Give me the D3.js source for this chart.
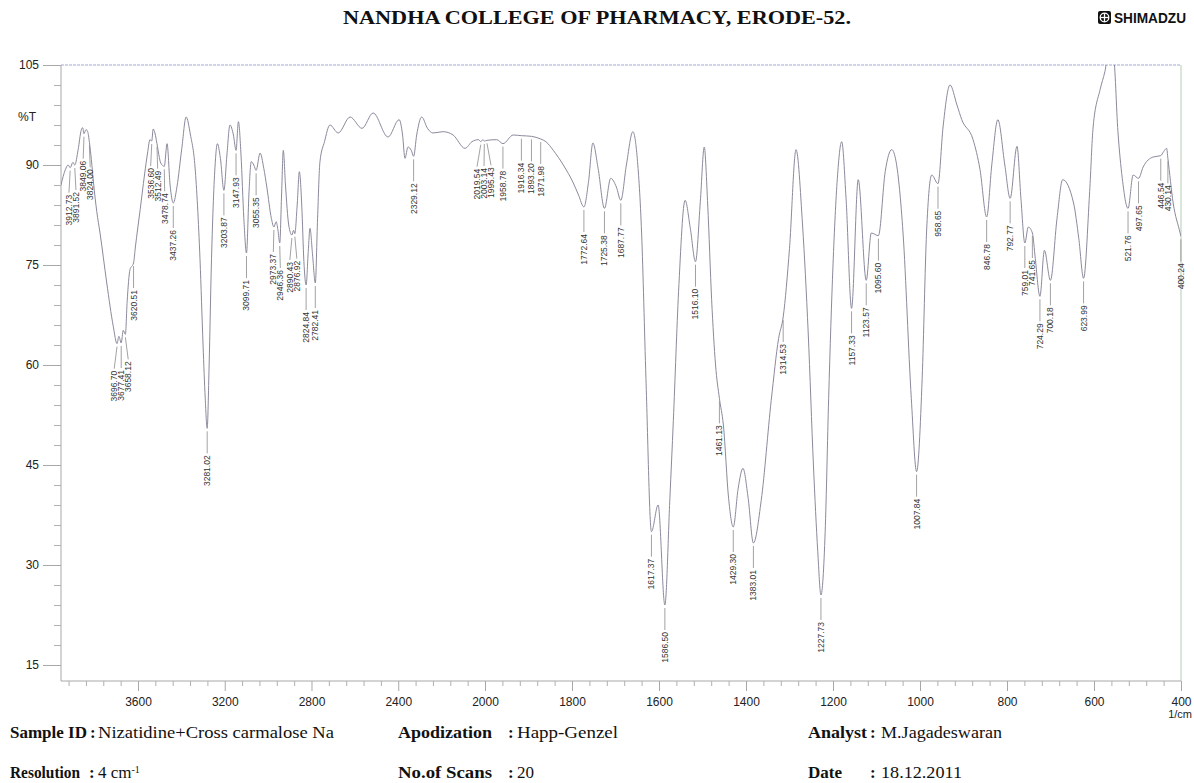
<!DOCTYPE html>
<html>
<head>
<meta charset="utf-8">
<script src="https://cdnjs.cloudflare.com/ajax/libs/d3/7.8.5/d3.min.js"></script>
<style>
  body { margin: 0; background: #fff; }
  svg { display: block; }
</style>
</head>
<body>
<svg id="chart"></svg>
<script>
// spectrum, high wavenumber to low
const wavenumber = [
  3955, 3935, 3922, 3912.73, 3900, 3891.52, 3876, 3862, 3855, 3849.06,
  3840, 3832, 3824.00, 3815, 3805, 3790, 3775, 3744, 3714, 3696.70,
  3688, 3677.41, 3668, 3658.12, 3650, 3637, 3620.51, 3612, 3590, 3570,
  3555, 3545, 3536.60, 3530, 3522, 3512.49, 3495, 3478.74, 3466, 3452,
  3437.26, 3420, 3398, 3378, 3358, 3337, 3314, 3300, 3290, 3281.02,
  3272, 3262, 3245, 3234, 3220, 3203.87, 3190, 3176, 3160, 3147.93,
  3137, 3125, 3112, 3099.71, 3088, 3078, 3066, 3055.35, 3037, 3020,
  3006, 2985, 2973.37, 2963, 2955, 2946.36, 2938, 2930, 2920, 2905,
  2890.43, 2883, 2876.92, 2866, 2856, 2845, 2835, 2824.84, 2815, 2807,
  2795, 2782.41, 2772, 2761, 2740, 2715, 2677, 2622, 2567, 2516,
  2447, 2396, 2380, 2369, 2355, 2340, 2329.12, 2315, 2292, 2265,
  2240, 2193, 2147, 2092, 2060, 2030, 2019.54, 2010, 2003.14, 1995.43,
  1973, 1958.78, 1935, 1916.34, 1893.20, 1871.98, 1860, 1843, 1820, 1797,
  1785, 1772.64, 1762, 1752, 1740, 1725.38, 1711, 1698, 1687.77, 1675,
  1660, 1650, 1640, 1630, 1617.37, 1602, 1586.50, 1575, 1567, 1555,
  1540, 1528, 1516.10, 1505, 1496, 1488, 1479, 1470, 1461.13, 1452,
  1440, 1429.30, 1418, 1407, 1395, 1383.01, 1365, 1342, 1325, 1314.53,
  1300, 1285, 1270, 1257, 1245, 1235, 1227.73, 1218, 1210, 1200,
  1190, 1180, 1170, 1157.33, 1142, 1123.57, 1112, 1095.60, 1080, 1065,
  1055, 1039, 1020, 1007.84, 995, 985, 973, 958.65, 947, 931,
  915, 904, 878, 862, 846.78, 835, 821, 805, 792.77, 777,
  768, 759.01, 751, 741.65, 735, 724.29, 714, 700.18, 685, 672,
  647, 635, 623.99, 610, 602, 586, 575, 567, 555, 545,
  535, 521.76, 510, 497.65, 487, 464, 446.54, 440, 433, 430.14,
  418, 402, 400.24
];
const percentT = [
  87.0, 89.3, 90.0, 89.6, 90.4, 90.0, 92.3, 95.2, 95.6, 94.7,
  95.3, 95.0, 93.4, 90.8, 87.3, 83.0, 79.8, 72.3, 65.8, 63.2,
  64.3, 63.3, 65.2, 64.6, 69.5, 74.3, 75.3, 77.7, 83.3, 88.5,
  92.0, 93.8, 93.6, 95.4, 94.8, 93.2, 90.3, 89.8, 93.2, 87.0,
  84.3, 86.8, 92.5, 97.2, 94.5, 89.7, 75.8, 63.0, 55.0, 50.5,
  60.0, 74.7, 89.7, 93.2, 91.0, 86.2, 91.5, 96.0, 94.5, 92.2,
  96.5, 91.5, 82.0, 76.8, 86.0, 90.5, 90.0, 89.2, 91.8, 89.5,
  86.7, 82.0, 80.7, 81.5, 80.3, 78.3, 85.5, 92.2, 87.0, 81.0,
  79.5, 80.2, 79.7, 84.0, 89.0, 84.0, 75.5, 72.0, 77.0, 80.5,
  76.5, 72.3, 82.0, 90.5, 93.5, 96.0, 94.8, 97.2, 95.5, 97.8,
  94.2, 96.8, 94.5, 91.0, 92.7, 92.2, 91.3, 94.5, 97.2, 95.5,
  94.8, 95.0, 94.5, 92.5, 93.5, 93.8, 93.5, 93.8, 93.6, 93.7,
  93.8, 93.2, 94.5, 94.4, 94.3, 93.9, 93.5, 92.2, 90.0, 87.3,
  85.5, 83.7, 87.5, 93.3, 89.5, 83.5, 88.0, 86.7, 84.7, 90.0,
  95.0, 91.0, 79.8, 58.0, 35.0, 39.0, 24.0, 40.0, 51.7, 71.0,
  84.7, 80.5, 75.5, 84.5, 92.7, 84.0, 69.8, 60.0, 55.0, 51.0,
  40.0, 35.7, 41.5, 44.5, 40.0, 33.3, 39.7, 54.7, 64.0, 67.2,
  77.5, 92.3, 81.0, 64.8, 45.0, 32.0, 25.5, 35.0, 55.0, 75.0,
  88.0, 93.5, 85.0, 68.5, 87.8, 72.7, 79.8, 79.4, 89.0, 92.3,
  90.5, 79.8, 55.0, 44.0, 58.0, 79.8, 88.5, 87.2, 95.7, 102.0,
  99.0, 96.8, 93.8, 89.3, 82.2, 90.0, 96.8, 90.0, 85.0, 92.8,
  85.0, 78.3, 80.7, 79.8, 76.0, 70.3, 77.2, 72.7, 82.0, 87.8,
  84.3, 79.0, 73.0, 86.0, 95.7, 101.3, 104.0, 106.5, 106.0, 95.0,
  88.0, 83.5, 88.5, 88.0, 89.7, 91.2, 91.4, 92.0, 92.5, 91.0,
  84.3, 79.8, 79.3
];

// peak picks printed on the chart
const peakLabels = [
  "3912.73", "3891.52", "3849.06", "3824.00", "3696.70", "3677.41", "3658.12",
  "3620.51", "3536.60", "3512.49", "3478.74", "3437.26", "3281.02", "3203.87",
  "3147.93", "3099.71", "3055.35", "2973.37", "2946.36", "2890.43", "2876.92",
  "2824.84", "2782.41", "2329.12", "2019.54", "2003.14", "1995.43", "1958.78",
  "1916.34", "1893.20", "1871.98", "1772.64", "1725.38", "1687.77", "1617.37",
  "1586.50", "1516.10", "1461.13", "1429.30", "1383.01", "1314.53", "1227.73",
  "1157.33", "1123.57", "1095.60", "1007.84", "958.65", "846.78", "792.77",
  "759.01", "741.65", "724.29", "700.18", "623.99", "521.76", "497.65",
  "446.54", "430.14", "400.24"
];

const xTickValues = [3600, 3200, 2800, 2400, 2000, 1800, 1600, 1400, 1200, 1000, 800, 600, 400];
const yTickValues = [15, 30, 45, 60, 75, 90, 105];

const width = 1194, height = 783;
const plotLeft = 61, plotRight = 1181, plotTop = 65, plotBottom = 681;

const svg = d3.select("#chart")
    .attr("width", width)
    .attr("height", height)
    .style("font-family", "'Liberation Sans', Arial, sans-serif");

svg.append("rect").attr("width", width).attr("height", height).attr("fill", "#fff");

// Shimadzu prints 4000-2000 at half the scale of 2000-400
const xScale = d3.scaleLinear()
    .domain([3955, 2000, 400])
    .range([plotLeft, 485, plotRight]);
const yScale = d3.scaleLinear()
    .domain([12.6, 105])
    .range([plotBottom, plotTop]);

// header
svg.append("text")
    .attr("x", 597).attr("y", 24)
    .attr("text-anchor", "middle")
    .attr("textLength", 508)
    .attr("lengthAdjust", "spacingAndGlyphs")
    .style("font-family", "'Liberation Serif', 'Times New Roman', serif")
    .style("font-weight", 700)
    .style("font-size", "18px")
    .attr("fill", "#111")
    .text("NANDHA COLLEGE OF PHARMACY, ERODE-52.");

let logo = svg.append("g").attr("transform", "translate(1098,11)");
logo.append("rect").attr("width", 13).attr("height", 13).attr("rx", 2).attr("fill", "#111");
logo.append("circle").attr("cx", 6.5).attr("cy", 6.5).attr("r", 4.3)
    .attr("fill", "none").attr("stroke", "#fff").attr("stroke-width", 1.3);
logo.append("line").attr("x1", 2.2).attr("x2", 10.8).attr("y1", 6.5).attr("y2", 6.5)
    .attr("stroke", "#fff").attr("stroke-width", 1.3);
logo.append("line").attr("x1", 6.5).attr("x2", 6.5).attr("y1", 2.2).attr("y2", 10.8)
    .attr("stroke", "#fff").attr("stroke-width", 1.3);
svg.append("text")
    .attr("x", 1114).attr("y", 23)
    .attr("textLength", 72)
    .attr("lengthAdjust", "spacingAndGlyphs")
    .style("font-weight", 700)
    .style("font-size", "14px")
    .attr("fill", "#111")
    .text("SHIMADZU");

// frame
svg.append("line")
    .attr("x1", plotLeft).attr("x2", plotRight).attr("y1", plotTop).attr("y2", plotTop)
    .attr("stroke", "#a3aad4").attr("stroke-width", 1).attr("stroke-dasharray", "3,1");
svg.append("line")
    .attr("x1", plotRight).attr("x2", plotRight).attr("y1", plotTop).attr("y2", plotBottom)
    .attr("stroke", "#b3cdb3").attr("stroke-width", 1);
svg.append("line")
    .attr("x1", plotLeft).attr("x2", plotLeft).attr("y1", plotTop).attr("y2", plotBottom)
    .attr("stroke", "#a8a8a8").attr("stroke-width", 1);
svg.append("line")
    .attr("x1", plotLeft).attr("x2", plotRight).attr("y1", plotBottom).attr("y2", plotBottom)
    .attr("stroke", "#a8a8a8").attr("stroke-width", 1);

// y axis
let yMinor = d3.range(15, 106, 3).filter(v => v % 15 != 0);
svg.append("g").attr("transform", `translate(${plotLeft},0)`)
    .call(d3.axisLeft(yScale).tickValues(yMinor).tickSize(7).tickFormat(""))
    .call(g => g.select(".domain").remove())
    .call(g => g.selectAll("line").attr("stroke", "#b0b0b0"));
svg.append("g").attr("transform", `translate(${plotLeft},0)`)
    .call(d3.axisLeft(yScale).tickValues(yTickValues).tickSize(18).tickPadding(4)
        .tickFormat(d3.format("d")))
    .call(g => g.select(".domain").remove())
    .call(g => g.selectAll("line").attr("stroke", "#a8a8a8"))
    .call(g => g.selectAll("text")
        .style("font-size", "12px")
        .style("font-family", "'Liberation Sans', Arial, sans-serif")
        .attr("fill", "#222"));
svg.append("text")
    .attr("x", 18).attr("y", 121)
    .style("font-size", "12px")
    .attr("fill", "#222")
    .text("%T");

// x axis
let xMinor = d3.range(3920, 2000, -80).concat(d3.range(1960, 400, -40))
    .filter(v => !xTickValues.includes(v));
svg.append("g").attr("transform", `translate(0,${plotBottom})`)
    .call(d3.axisBottom(xScale).tickValues(xMinor).tickSize(5).tickFormat(""))
    .call(g => g.select(".domain").remove())
    .call(g => g.selectAll("line").attr("stroke", "#b0b0b0"));
svg.append("g").attr("transform", `translate(0,${plotBottom})`)
    .call(d3.axisBottom(xScale).tickValues(xTickValues).tickSize(10).tickPadding(6)
        .tickFormat(d3.format("d")))
    .call(g => g.select(".domain").remove())
    .call(g => g.selectAll("line").attr("stroke", "#a8a8a8"))
    .call(g => g.selectAll("text")
        .style("font-size", "12px")
        .style("font-family", "'Liberation Sans', Arial, sans-serif")
        .attr("fill", "#222"));
svg.append("text")
    .attr("x", 1192).attr("y", 718)
    .attr("text-anchor", "end")
    .style("font-size", "11px")
    .attr("fill", "#222")
    .text("1/cm");

// spectrum
svg.append("clipPath").attr("id", "plot-clip")
    .append("rect")
    .attr("x", plotLeft).attr("y", plotTop)
    .attr("width", plotRight - plotLeft).attr("height", plotBottom - plotTop);

let points = wavenumber.map((w, i) => [w, percentT[i]]);
let line = d3.line()
    .x(d => xScale(d[0]))
    .y(d => yScale(d[1]))
    .curve(d3.curveMonotoneX);

svg.append("path")
    .datum(points)
    .attr("clip-path", "url(#plot-clip)")
    .attr("d", line)
    .attr("fill", "none")
    .attr("stroke", "#8b8a9c")
    .attr("stroke-width", 1);

// peak labels, hung under each dip
function tAt(w)
{
    for (let i = 1; i < wavenumber.length; i++)
    {
        if (wavenumber[i] <= w)
        {
            let a = wavenumber[i - 1], b = wavenumber[i];
            let f = (a - w) / (a - b);
            return percentT[i - 1] + f * (percentT[i] - percentT[i - 1]);
        }
    }
    return percentT[percentT.length - 1];
}

let peaks = peakLabels.map(s => {
    let w = parseFloat(s);
    let x = xScale(w);
    let yc = Math.min(yScale(Math.min(tAt(w), 105)), plotBottom);
    return { text: s, x: x, lx: x, yc: yc };
});

// spread labels that would print on top of each other
const gap = 7, textLen = 31;
for (let it = 0; it < 60; it++)
{
    for (let i = 1; i < peaks.length; i++)
    {
        let a = peaks[i - 1], b = peaks[i];
        if (Math.abs(a.yc - b.yc) < textLen + 20 && b.lx - a.lx < gap)
        {
            let d = (gap - (b.lx - a.lx)) / 2;
            a.lx -= d;
            b.lx += d;
        }
    }
}

let labelGroup = svg.append("g");
peaks.forEach(p => {
    labelGroup.append("line")
        .attr("x1", p.x).attr("y1", p.yc + 3)
        .attr("x2", p.lx).attr("y2", p.yc + 25)
        .attr("stroke", "#8a8a8a")
        .attr("stroke-width", 0.8);
    labelGroup.append("text")
        .attr("transform", `translate(${p.lx},${p.yc + 27}) rotate(-90)`)
        .attr("text-anchor", "end")
        .attr("dy", "0.35em")
        .style("font-size", "8.5px")
        .attr("fill", "#333")
        .text(p.text);
});

// footer with the run parameters
const serif = "'Liberation Serif', 'Times New Roman', serif";
function field(x, labelW, colonX, valueX, y, label, value, valueW)
{
    svg.append("text").attr("x", x).attr("y", y)
        .attr("textLength", labelW).attr("lengthAdjust", "spacingAndGlyphs")
        .style("font-family", serif).style("font-weight", 700).style("font-size", "17px")
        .attr("fill", "#111").text(label);
    svg.append("text").attr("x", colonX).attr("y", y)
        .style("font-family", serif).style("font-weight", 700).style("font-size", "17px")
        .attr("fill", "#111").text(":");
    let v = svg.append("text").attr("x", valueX).attr("y", y)
        .style("font-family", serif).style("font-size", "17px")
        .attr("fill", "#111").text(value);
    if (valueW) v.attr("textLength", valueW).attr("lengthAdjust", "spacingAndGlyphs");
    return v;
}

field(10, 77, 90, 98, 738, "Sample ID", "Nizatidine+Cross carmalose Na", 236);
let res = field(10, 70, 89, 98, 778, "Resolution", "4 cm");
res.append("tspan").attr("baseline-shift", "super").style("font-size", "10px").text("-1");
field(398, 94, 508, 517, 738, "Apodization", "Happ-Genzel", 101);
field(398, 94, 508, 517, 778, "No.of Scans", "20");
field(808, 59, 870, 881, 738, "Analyst", "M.Jagadeswaran", 121);
field(808, 34, 870, 881, 778, "Date", "18.12.2011", 81);
</script>
</body>
</html>
